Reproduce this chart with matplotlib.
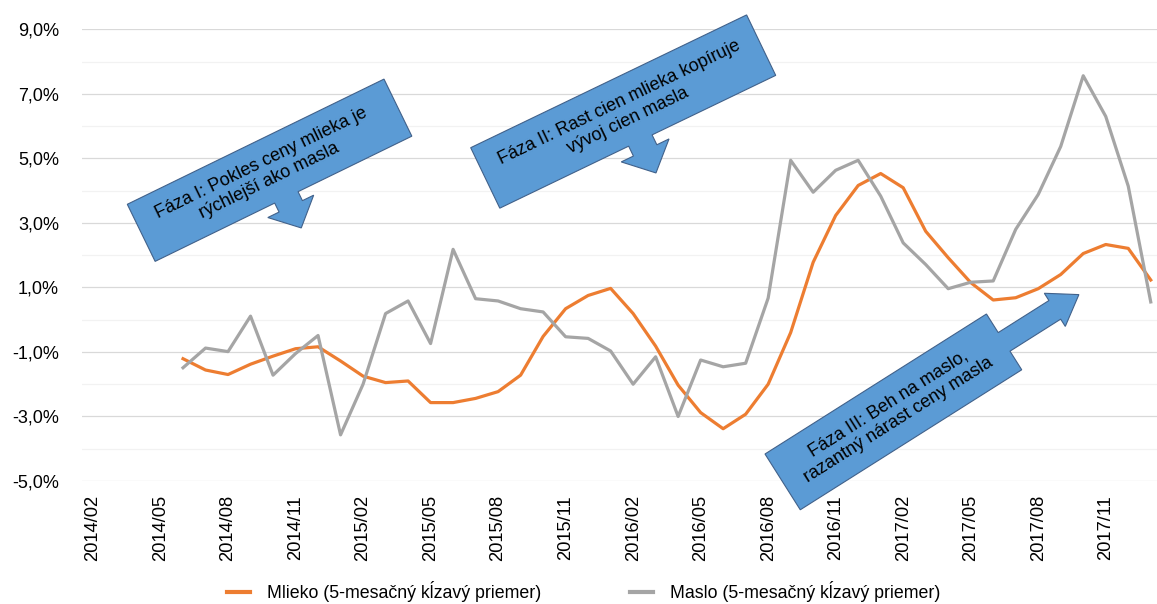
import numpy as np
import matplotlib
matplotlib.use("Agg")
import matplotlib.pyplot as plt
from matplotlib.patches import Polygon
from matplotlib.lines import Line2D
from matplotlib.ticker import FixedLocator, FuncFormatter
from matplotlib import font_manager

plt.rcParams['font.family'] = ['Liberation Sans', 'DejaVu Sans']

# ---- data ----
months = [f"{y}/{m:02d}" for y in range(2014, 2019) for m in range(1, 13)][1:49]  # 2014/02 .. 2018/01
tick_labels = ["2014/02", "2014/05", "2014/08", "2014/11", "2015/02", "2015/05",
               "2015/08", "2015/11", "2016/02", "2016/05", "2016/08", "2016/11",
               "2017/02", "2017/05", "2017/08", "2017/11"]
nan = np.nan
mlieko = [nan, nan, nan, nan,
          -1.21, -1.56, -1.70, -1.38, -1.13, -0.90, -0.84, -1.28, -1.75, -1.95,
          -1.90, -2.57, -2.57, -2.44, -2.23, -1.72, -0.52, 0.34, 0.75, 0.97,
          0.19, -0.82, -2.03, -2.88, -3.38, -2.93, -2.00, -0.40, 1.78, 3.23,
          4.16, 4.53, 4.09, 2.74, 1.92, 1.15, 0.61, 0.68, 0.96, 1.40,
          2.05, 2.33, 2.21, 1.23]
maslo = [nan, nan, nan, nan,
         -1.49, -0.88, -0.99, 0.11, -1.72, -1.05, -0.49, -3.57, -2.00, 0.19,
         0.58, -0.74, 2.18, 0.65, 0.58, 0.34, 0.24, -0.53, -0.58, -0.97,
         -2.00, -1.15, -3.00, -1.25, -1.46, -1.35, 0.67, 4.94, 3.95, 4.63,
         4.94, 3.83, 2.38, 1.71, 0.96, 1.16, 1.20, 2.80, 3.88, 5.37,
         7.56, 6.30, 4.14, 0.55]
series_names = ["Mlieko (5-mesačný kĺzavý priemer)", "Maslo (5-mesačný kĺzavý priemer)"]
series_colors = ['#ED7D31', '#A5A5A5']
callout_texts = ["Fáza I: Pokles ceny mlieka je\nrýchlejší ako masla",
                 "Fáza II: Rast cien mlieka kopíruje\nvývoj cien masla",
                 "Fáza III: Beh na maslo,\nrazantný nárast ceny masla"]

W, H = 1157, 604
fig = plt.figure(figsize=(W / 100, H / 100), dpi=100)

# axes placement in pixels (image coords, y down)
ax_left, ax_right = 81.75, 1162.0
ax_top, ax_bottom = 29.3, 481.0
ax = fig.add_axes([ax_left / W, 1 - ax_bottom / H, (ax_right - ax_left) / W, (ax_bottom - ax_top) / H])

x = np.arange(len(months))
l1, = ax.plot(x, mlieko, color=series_colors[0], lw=2.3, solid_joinstyle='round', zorder=3)
l2, = ax.plot(x, maslo, color=series_colors[1], lw=2.3, solid_joinstyle='round', zorder=3)

ax.set_xlim(-0.5, len(months) - 0.5)
ax.set_ylim(-5, 9)
ax.yaxis.set_major_locator(FixedLocator([-5, -3, -1, 1, 3, 5, 7, 9]))
ax.yaxis.set_minor_locator(FixedLocator([-4, -2, 0, 2, 4, 6, 8]))
ax.yaxis.set_major_formatter(FuncFormatter(lambda v, p: f"{v:.1f}%".replace('.', ',')))
ax.grid(axis='y', which='major', color='#D9D9D9', lw=0.9, zorder=0)
ax.grid(axis='y', which='minor', color='#F2F2F2', lw=0.9, zorder=0)
ax.set_axisbelow(True)

tick_pos = [months.index(t) for t in tick_labels]
ax.set_xticks(tick_pos)
ax.set_xticklabels(tick_labels, rotation=90, fontsize=13.2)
ax.tick_params(axis='x', length=0, pad=10)
ax.tick_params(axis='y', which='both', length=0, pad=16.4, labelsize=13)
for s in ax.spines.values():
    s.set_visible(False)

# ---- callouts (geometry in image pixel coords) ----
def to_fig(pts):
    return [(px / W, 1 - py / H) for px, py in pts]

def local(A, theta, pts):
    t = np.deg2rad(theta)
    u = np.array([np.cos(t), -np.sin(t)])
    v = np.array([np.sin(t), np.cos(t)])
    A = np.array(A)
    return [tuple(A + a * u + b * v) for a, b in pts]

def down_callout(A, theta, L, Hh, uc, shw, slen, hhw, hlen):
    pts = [(0, 0), (L, 0), (L, Hh),
           (uc + shw, Hh), (uc + shw, Hh + slen), (uc + hhw, Hh + slen),
           (uc, Hh + slen + hlen),
           (uc - hhw, Hh + slen), (uc - shw, Hh + slen), (uc - shw, Hh),
           (0, Hh)]
    return local(A, theta, pts)

def right_callout(A, theta, L, Hh, shw, slen, hhw, hlen):
    vc = Hh / 2
    pts = [(0, 0), (L, 0), (L, vc - shw), (L + slen, vc - shw), (L + slen, vc - hhw),
           (L + slen + hlen, vc), (L + slen, vc + hhw), (L + slen, vc + shw),
           (L, vc + shw), (L, Hh), (0, Hh)]
    return local(A, theta, pts)

callouts = [
    (down_callout((127.3, 204.3), 26.0, 285.6, 63.5, 146, 13, 10, 25.5, 24), (127.3, 204.3), 26.0, 285.6, 63.5, -5),
    (down_callout((470.7, 147.7), 25.7, 306.2, 67.1, 156, 13, 11, 26.5, 25), (470.7, 147.7), 25.7, 306.2, 67.1, 0),
    (right_callout((765.0, 454.0), 32.3, 262.0, 66.0, 11, 60, 19.6, 28.5), (765.0, 454.0), 32.3, 262.0, 66.0, 0),
]
for (poly, A, th, L, Hh, du), txt in zip(callouts, callout_texts):
    fig.patches.append(Polygon(to_fig(poly), closed=True, transform=fig.transFigure,
                               facecolor='#5B9BD5', edgecolor='#41618A', lw=0.8, zorder=5))
    c = local(A, th, [(L / 2 + du, Hh / 2)])[0]
    fig.text(c[0] / W, 1 - c[1] / H, txt, rotation=th, rotation_mode='anchor',
             ha='center', va='center', multialignment='center', fontsize=13,
             color='black', zorder=6)

# ---- legend ----
handles = [Line2D([], [], color=c, lw=3.0) for c in series_colors]
fig.legend(handles, series_names, loc='center', ncol=2,
           bbox_to_anchor=(584 / W, 1 - 592 / H), frameon=False,
           prop=font_manager.FontProperties(family='Liberation Sans', size=12.8),
           handlelength=1.3, handletextpad=0.95, columnspacing=5.0,
           borderpad=0, borderaxespad=0)

fig.savefig("out.png", dpi=100)
